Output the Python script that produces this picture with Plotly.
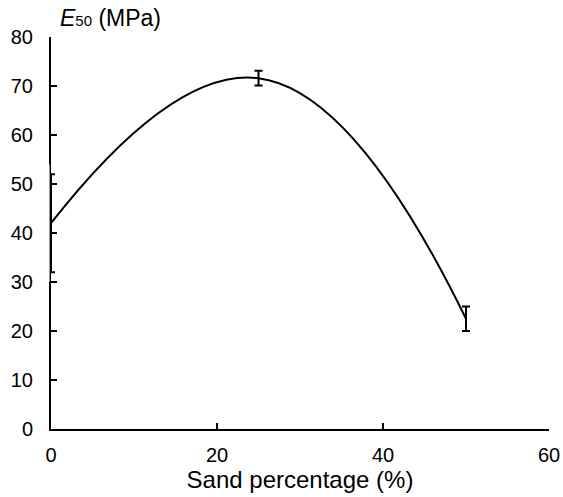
import plotly.graph_objects as go

sand = [0, 25, 50]
e50 = [42, 71.6, 22.5]
err = [10, 1.5, 2.5]

x_ticks = [0, 20, 40, 60]
y_ticks = [0, 10, 20, 30, 40, 50, 60, 70, 80]
y_max = 80

W, H = 563, 497
L, R, T, B = 51, 14, 37, 68

fig = go.Figure()
fig.add_trace(go.Scatter(
    x=sand, y=e50, mode="lines",
    line=dict(color="black", width=2, shape="spline", smoothing=1.3),
    error_y=dict(type="data", array=err, visible=True, color="black", thickness=2, width=4),
    showlegend=False,
))

fam = "Liberation Sans, Arial, sans-serif"
tick_font = dict(family=fam, size=20, color="black")
pw = W - L - R
fig.update_layout(
    width=W, height=H,
    margin=dict(l=L, r=R, t=T, b=B),
    paper_bgcolor="white", plot_bgcolor="white",
    font=tick_font,
    title=dict(
        text='<i>E</i><span style="font-size:15px">50</span> (MPa)',
        font=dict(family=fam, size=23, color="black"),
        x=60 / W, xanchor="left", xref="container",
        y=1 - 18 / H, yanchor="middle", yref="container",
    ),
    xaxis=dict(range=[0, 60], tickvals=x_ticks, showgrid=False, zeroline=False,
               showline=True, linecolor="black", linewidth=2, automargin=False,
               ticks="inside", ticklen=6, tickwidth=2, tickcolor="black",
               ticklabelstandoff=7,
               title=dict(text="Sand percentage (%)",
                          font=dict(family=fam, size=24, color="black"), standoff=6)),
    yaxis=dict(range=[0, y_max], tickvals=y_ticks, showgrid=False, zeroline=False,
               showline=True, linecolor="black", linewidth=2, automargin=False,
               ticks="inside", ticklen=6, tickwidth=2, tickcolor="black",
               ticklabelstandoff=12),
    shapes=[dict(type="rect", xref="paper", yref="paper",
                 x0=-10 / pw, x1=-1.4 / pw,
                 y0=(e50[0] - err[0] - 2) / y_max, y1=(e50[0] + err[0] + 2) / y_max,
                 fillcolor="white", line=dict(width=0), layer="above")],
)
fig.write_html("out.html",
               config={"displayModeBar": False},
               post_script="document.body.style.margin='0';"
                           "document.body.style.overflow='hidden';")
